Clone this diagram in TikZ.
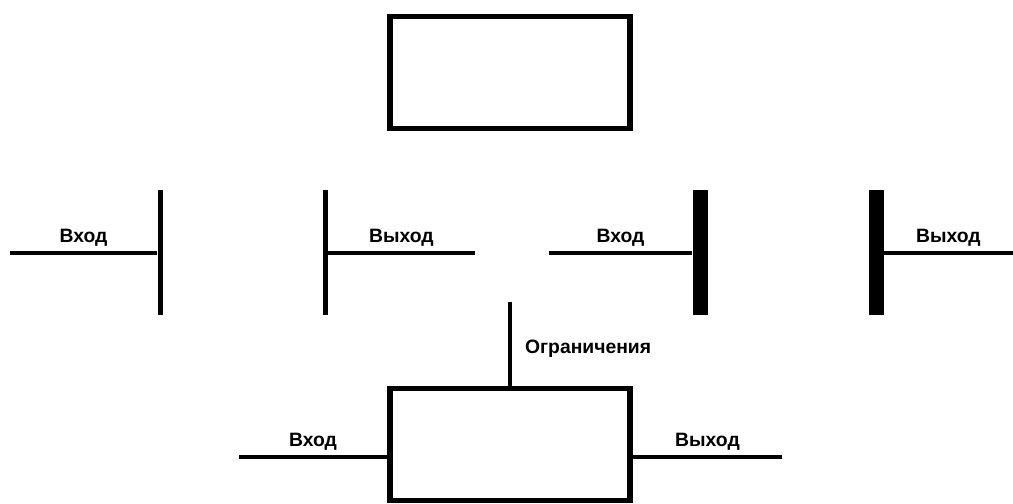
\documentclass[tikz,border=0pt]{standalone}
\usepackage{fontspec}
\setmainfont{Liberation Sans}

\begin{document}
\begin{tikzpicture}[every node/.style={font=\bfseries\fontsize{11}{13}\selectfont}, blk/.style={draw, line width=3.4pt, minimum width=4.8cm, minimum height=2.24cm, inner sep=0pt}, bar/.style={fill, inner sep=0pt, minimum width=0.1cm, minimum height=2.5cm}, wbar/.style={bar, minimum width=0.3cm}, ln/.style={line width=2pt}, lbl/.style={midway, anchor=base, yshift=0.2cm}]
	\useasboundingbox (0,0) rectangle (20.26,10.08);
	\node[blk] (top) at (10.2,8.63) {};
	\node[bar] (b1) at (3.2,5.03) {};
	\node[bar] (b2) at (6.5,5.03) {};
	\node[wbar] (b3) at (14.0,5.03) {};
	\node[wbar] (b4) at (17.52,5.03) {};
	\node[blk] (fn) at (10.2,1.19) {};
	\coordinate (in1) at (0.2,5.02); \coordinate (out2) at (9.5,5.02);
	\coordinate (in3) at (10.98,5.02); \coordinate (out4) at (20.26,5.02);
	\coordinate (inf) at (4.78,0.94); \coordinate (outf) at (15.64,0.94);
	\coordinate (ctl) at (10.2,4.04);
	\draw[ln] (in1) -- (in1 -| b1.west) node[lbl] {Вход};
	\draw[ln] (out2 -| b2.east) -- (out2) node[lbl] {Выход};
	\draw[ln] (in3) -- (in3 -| b3.west) node[lbl] {Вход};
	\draw[ln] (out4 -| b4.east) -- (out4) node[lbl] {Выход};
	\draw[ln] (inf) -- (inf -| fn.west) node[lbl] {Вход};
	\draw[ln] (outf -| fn.east) -- (outf) node[lbl] {Выход};
	\draw[ln] (ctl) -- (fn.north) node[pos=0.62, anchor=base west, xshift=0.15cm] {Ограничения};
\end{tikzpicture}
\end{document}
